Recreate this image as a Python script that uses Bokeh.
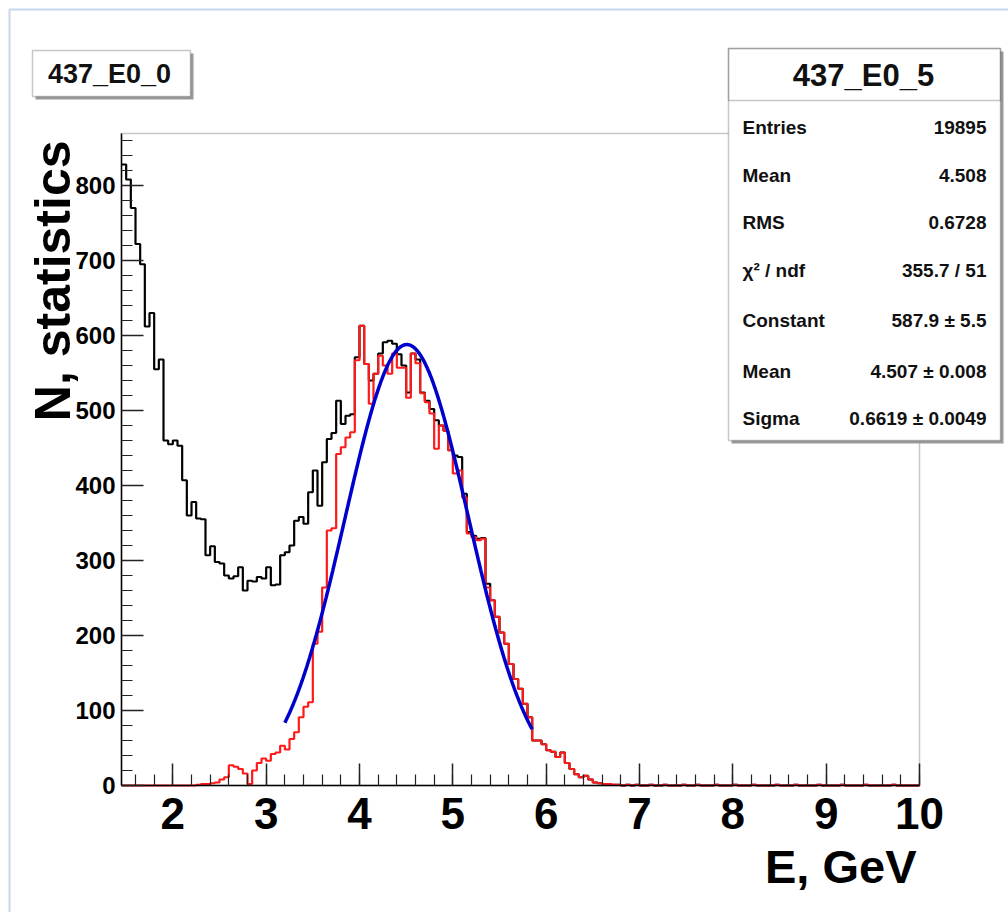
import numpy as np
from bokeh.plotting import figure
from bokeh.models import Range1d, SingleIntervalTicker, Label, BoxAnnotation
from bokeh.embed import file_html
from bokeh.resources import INLINE

# ---------------- data ----------------
e_low = 1.45          # left edge of first bin shown (GeV)
bin_w = 0.05          # bin width (GeV)
x_min, x_max = 1.45, 10.0
y_min, y_max = 0, 869.3

# black histogram (437_E0_0), bins from 1.45 GeV in steps of 0.05 GeV
black_counts = [
    828, 808, 770, 722, 695, 612, 630, 555, 568, 460,   # 1.45 - 1.90
    455, 460, 453, 407, 360, 378, 356, 355, 307, 319,   # 1.95 - 2.40
    298, 296, 280, 276, 279, 291, 260, 273, 272, 278,   # 2.45 - 2.90
    276, 291, 267, 268, 307, 311, 320, 353, 358, 349,   # 2.95 - 3.40
    391, 420, 373, 431, 462, 470, 513, 482, 493, 495,   # 3.45 - 3.90
    571, 613, 562, 540, 549, 576, 591, 593, 589, 575,   # 3.95 - 4.40
    560, 524, 576, 568, 524, 513, 502, 487, 480, 473,   # 4.45 - 4.90
    447, 440, 438, 389, 338, 333, 329, 330, 269, 247,   # 4.95 - 5.40
    225, 204, 189, 162, 142, 129, 109, 91, 60, 60,      # 5.45 - 5.90
    55, 47, 45, 38, 44, 30, 22, 15, 11, 13,             # 5.95 - 6.40
    8, 4, 3, 2, 2, 1, 1, 0, 1, 0,                       # 6.45 - 6.90
    1, 0, 0, 1, 0, 0, 1, 0, 0, 0,                       # 6.95 - 7.40
    1, 0, 0, 1, 0, 0, 0, 1, 0, 0,                       # 7.45 - 7.90
    0, 1, 0, 0, 0, 1, 0, 0, 0, 0,                       # 7.95 - 8.40
    1, 0, 0, 0, 1, 0, 0, 0, 0, 1,                       # 8.45 - 8.90
    0, 0, 0, 0, 1, 0, 0, 0, 0, 1,                       # 8.95 - 9.40
    0, 0, 0, 0, 0, 1, 0, 0, 0, 0,                       # 9.45 - 9.90
    0,                                                  # 9.95
]

# red histogram (437_E0_5), same binning
red_counts = [
    0, 0, 0, 0, 0, 0, 0, 0, 0, 0,                       # 1.45 - 1.90
    0, 0, 0, 0, 0, 0, 1, 2, 2, 3,                       # 1.95 - 2.40
    4, 8, 11, 27, 25, 22, 16, 2, 20, 30,                # 2.45 - 2.90
    36, 33, 42, 44, 53, 48, 62, 71, 91, 105,            # 2.95 - 3.40
    111, 189, 205, 264, 340, 343, 442, 451, 464, 471,   # 3.45 - 3.90
    567, 613, 562, 509, 549, 573, 560, 549, 576, 557,   # 3.95 - 4.40
    557, 517, 576, 563, 523, 511, 496, 449, 480, 473,   # 4.45 - 4.90
    447, 416, 420, 384, 336, 331, 327, 329, 264, 247,   # 4.95 - 5.40
    225, 204, 189, 162, 142, 129, 109, 91, 60, 60,      # 5.45 - 5.90
    55, 47, 45, 38, 44, 30, 22, 15, 11, 13,             # 5.95 - 6.40
    8, 4, 3, 2, 2, 1, 1, 0, 1, 0,                       # 6.45 - 6.90
    1, 0, 0, 1, 0, 0, 1, 0, 0, 0,                       # 6.95 - 7.40
    1, 0, 0, 1, 0, 0, 0, 1, 0, 0,                       # 7.45 - 7.90
    0, 1, 0, 0, 0, 1, 0, 0, 0, 0,                       # 7.95 - 8.40
    1, 0, 0, 0, 1, 0, 0, 0, 0, 1,                       # 8.45 - 8.90
    0, 0, 0, 0, 1, 0, 0, 0, 0, 1,                       # 8.95 - 9.40
    0, 0, 0, 0, 0, 1, 0, 0, 0, 0,                       # 9.45 - 9.90
    0,                                                  # 9.95
]

# Gaussian fit parameters (from the stats box)
fit_const = 587.9
fit_mean = 4.507
fit_sigma = 0.6619
fit_lo, fit_hi = 3.2, 5.85

hist_title = "437_E0_0"
stats_title = "437_E0_5"
stats_names = ["Entries", "Mean", "RMS", "\u03c7\u00b2 / ndf", "Constant", "Mean", "Sigma"]
stats_values = ["19895", "4.508", "0.6728", "355.7 / 51",
                "587.9 \u00b1 5.5", "4.507 \u00b1 0.008", "0.6619 \u00b1 0.0049"]
x_label = "E, GeV"
y_label = "N, statistics"

# ---------------- layout ----------------
W, H = 1008, 912
FL, FR, FT, FB = 121, 919, 133, 785   # ROOT frame edges on the canvas (pixels)
FONT = "Liberation Sans"

# the Bokeh frame covers the whole canvas; extend ranges accordingly
xpp = (FR - FL) / (x_max - x_min)
ypp = (FB - FT) / (y_max - y_min)
xr = Range1d(x_min - FL / xpp, x_max + (W - FR) / xpp)
yr_ = Range1d(y_min - (H - FB) / ypp, y_max + FT / ypp)


def sx(X):
    return X


def sy(Y):
    return H - Y


p = figure(width=W, height=H, x_range=xr, y_range=yr_,
           output_backend="svg", toolbar_location=None, title=None,
           min_border=0, min_border_left=0, min_border_right=0,
           min_border_top=0, min_border_bottom=0)
p.background_fill_color = "white"
p.border_fill_color = "white"
p.outline_line_color = None
p.grid.visible = False

# canvas border (blue, left and top only visible)
p.add_layout(BoxAnnotation(left=sx(9), right=sx(3000), top=sy(9), bottom=sy(3000),
                           left_units="screen", right_units="screen",
                           top_units="screen", bottom_units="screen",
                           fill_alpha=0, line_color="#4a7cc4", line_width=2, level="underlay"))

# ROOT frame box
p.add_layout(BoxAnnotation(left=x_min, right=x_max, bottom=y_min, top=y_max,
                           fill_color="white", fill_alpha=1,
                           line_color="#444444", line_width=1.5, level="underlay"))

# histograms as steps
edges = e_low + bin_w * np.arange(len(black_counts) + 1)
yb = list(black_counts) + [black_counts[-1]]
yr = list(red_counts) + [red_counts[-1]]
p.step(edges, yb, mode="after", line_color="black", line_width=2.2)
p.step(edges, yr, mode="after", line_color="#ff1a1a", line_width=2.2)

# Gaussian fit curve
xf = np.linspace(fit_lo, fit_hi, 300)
yf = fit_const * np.exp(-0.5 * ((xf - fit_mean) / fit_sigma) ** 2)
p.line(xf, yf, line_color="#0000cc", line_width=3.5)

# axes drawn at the ROOT frame edges
xa = p.xaxis[0]
ya = p.yaxis[0]
xa.fixed_location = y_min
ya.fixed_location = x_min
xa.bounds = (x_min, x_max)
ya.bounds = (y_min, y_max)
xa.ticker = SingleIntervalTicker(interval=1, num_minor_ticks=5)
ya.ticker = SingleIntervalTicker(interval=100, num_minor_ticks=5)
for ax in (xa, ya):
    ax.major_tick_in = 22
    ax.major_tick_out = 0
    ax.minor_tick_in = 11
    ax.minor_tick_out = 0
    ax.axis_line_color = "black"
    ax.axis_line_width = 1.5
    ax.major_tick_line_color = "#222222"
    ax.minor_tick_line_color = "#222222"
    ax.major_tick_line_width = 1.5
    ax.minor_tick_line_width = 1.2
    ax.major_label_text_font = FONT
    ax.major_label_text_font_style = "bold"
    ax.major_label_text_color = "black"
xa.major_label_text_font_size = "44px"
xa.major_label_standoff = 12
ya.major_label_text_font_size = "24px"
ya.major_label_standoff = 6

# title box (with shadow)
p.add_layout(BoxAnnotation(left=sx(35), right=sx(193), top=sy(53), bottom=sy(99),
                           left_units="screen", right_units="screen",
                           top_units="screen", bottom_units="screen",
                           fill_color="#9a9a9a", fill_alpha=1, line_alpha=0))
p.add_layout(BoxAnnotation(left=sx(32), right=sx(190), top=sy(50), bottom=sy(96),
                           left_units="screen", right_units="screen",
                           top_units="screen", bottom_units="screen",
                           fill_color="white", fill_alpha=1, line_color="#444444", line_width=1.5))
p.add_layout(Label(x=sx(109), y=sy(73), x_units="screen", y_units="screen", text=hist_title,
                   text_align="center", text_baseline="middle", text_font=FONT,
                   text_font_style="bold", text_font_size="27px", text_color="#111111"))

# stats box (with shadow)
p.add_layout(BoxAnnotation(left=sx(731), right=sx(1003), top=sy(51), bottom=sy(443),
                           left_units="screen", right_units="screen",
                           top_units="screen", bottom_units="screen",
                           fill_color="#9a9a9a", fill_alpha=1, line_alpha=0))
p.add_layout(BoxAnnotation(left=sx(728), right=sx(1000), top=sy(48), bottom=sy(440),
                           left_units="screen", right_units="screen",
                           top_units="screen", bottom_units="screen",
                           fill_color="white", fill_alpha=1, line_color="#444444", line_width=1.5))
p.add_layout(BoxAnnotation(left=sx(728), right=sx(1000), top=sy(48), bottom=sy(100),
                           left_units="screen", right_units="screen",
                           top_units="screen", bottom_units="screen",
                           fill_alpha=0, line_color="#444444", line_width=1.5))
p.add_layout(Label(x=sx(863), y=sy(75), x_units="screen", y_units="screen", text=stats_title,
                   text_align="center", text_baseline="middle", text_font=FONT,
                   text_font_style="bold", text_font_size="31px", text_color="#111111"))
row_y = [127, 175, 222, 270, 320, 371, 418]
for name, val, ry in zip(stats_names, stats_values, row_y):
    p.add_layout(Label(x=sx(742), y=sy(ry), x_units="screen", y_units="screen", text=name,
                       text_align="left", text_baseline="middle", text_font=FONT,
                       text_font_style="bold", text_font_size="19px", text_color="#111111"))
    p.add_layout(Label(x=sx(986), y=sy(ry), x_units="screen", y_units="screen", text=val,
                       text_align="right", text_baseline="middle", text_font=FONT,
                       text_font_style="bold", text_font_size="19px", text_color="#111111"))

# axis titles
p.add_layout(Label(x=sx(52), y=sy(140), x_units="screen", y_units="screen", text=y_label,
                   angle=np.pi / 2, text_align="right", text_baseline="middle", text_font=FONT,
                   text_font_style="bold", text_font_size="50px", text_color="black"))
p.add_layout(Label(x=sx(916), y=sy(866), x_units="screen", y_units="screen", text=x_label,
                   text_align="right", text_baseline="middle", text_font=FONT,
                   text_font_style="bold", text_font_size="47px", text_color="black"))

open("out.html", "w").write(file_html(p, INLINE))
